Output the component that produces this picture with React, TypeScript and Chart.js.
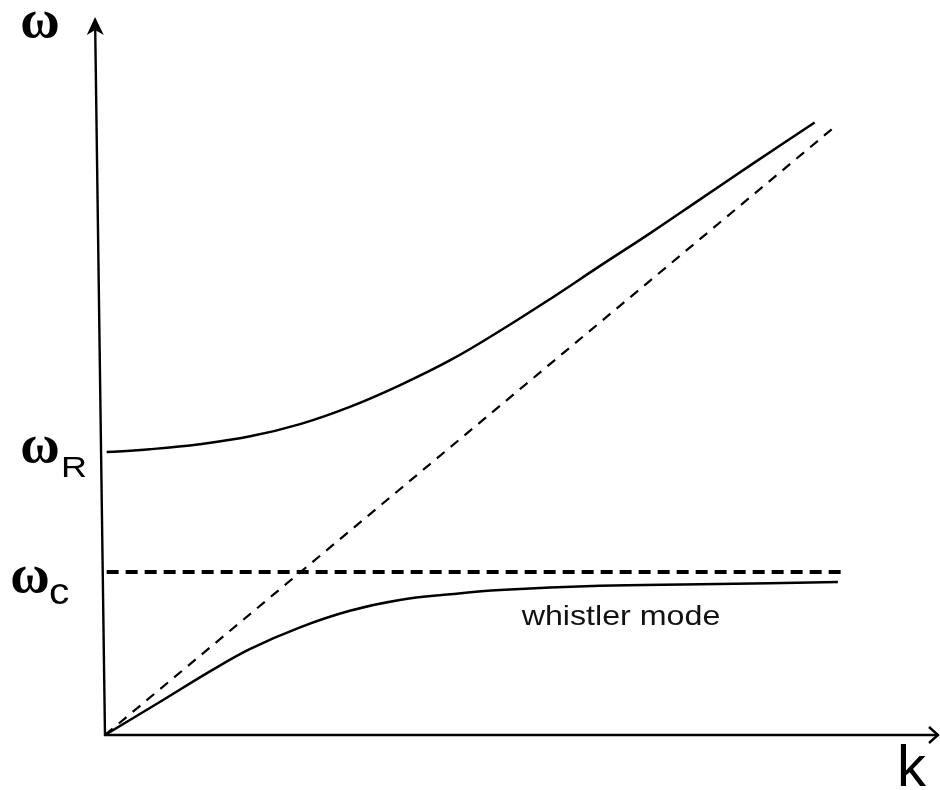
import { useEffect, useRef } from "react";
import { Chart, registerables } from "chart.js";

Chart.register(...registerables);

// Upper branch (R-mode, starts at ωR)
const kUpper = [0.02, 0.54, 1.14, 1.75, 2.35, 2.95, 3.55, 4.16, 4.76, 5.36, 5.96, 6.57, 7.17, 7.77, 8.55];
const wUpper = [3.94, 3.98, 4.05, 4.16, 4.33, 4.57, 4.87, 5.22, 5.63, 6.07, 6.53, 6.99, 7.46, 7.93, 8.53];
// Lower branch (whistler mode, asymptote ωc)
const kLower = [0, 0.66, 1.27, 1.75, 2.35, 2.95, 3.55, 4.16, 4.76, 5.96, 7.17, 8.83];
const wLower = [0, 0.46, 0.89, 1.2, 1.5, 1.73, 1.88, 1.96, 2.02, 2.08, 2.1, 2.13];
// Light line ω = ck
const kLight = [0, 8.77];
const wLight = [0, 8.45];
// Cyclotron frequency line
const kCyc = [0.02, 8.92];
const OMEGA_C = 2.27;
const OMEGA_R = 3.94;
const K_MAX = 10;
const W_MAX = 10;
// Labels
const LABEL_OMEGA = "ω";
const LABEL_R = "R";
const LABEL_C = "c";
const LABEL_K = "k";
const LABEL_WHISTLER = "whistler mode";
const WHISTLER_K = 5.02;
const WHISTLER_W = 1.53;

const toPts = (ks: number[], ws: number[]) => ks.map((k, i) => ({ x: k, y: ws[i] }));

function scaledText(ctx: CanvasRenderingContext2D, t: string, x: number, y: number, sx: number) {
  ctx.save();
  ctx.translate(x, y);
  ctx.scale(sx, 1);
  ctx.fillText(t, 0, 0);
  ctx.restore();
}

const decorPlugin = {
  id: "decor",
  afterDatasetsDraw(chart: any) {
    const ctx: CanvasRenderingContext2D = chart.ctx;
    const xs = chart.scales.x;
    const ys = chart.scales.y;
    const { left, right, top } = chart.chartArea;
    const x0 = xs.getPixelForValue(0);
    const y0 = ys.getPixelForValue(0);
    ctx.save();
    ctx.strokeStyle = "#000";
    ctx.fillStyle = "#000";
    ctx.lineWidth = 2.4;
    ctx.setLineDash([]);
    // y axis (slightly tilted as in the sketch)
    const tipX = xs.getPixelForValue(-0.12);
    const tipY = top;
    let ux = tipX - x0, uy = tipY - y0;
    const len = Math.hypot(ux, uy);
    ux /= len; uy /= len;
    const nx = -uy, ny = ux;
    ctx.beginPath();
    ctx.moveTo(x0, y0 + 1);
    ctx.lineTo(tipX - ux * 10, tipY - uy * 10);
    ctx.stroke();
    const bx = tipX - ux * 18, by = tipY - uy * 18;
    ctx.beginPath();
    ctx.moveTo(tipX, tipY);
    ctx.lineTo(bx + nx * 8.5, by + ny * 8.5);
    ctx.lineTo(tipX - ux * 13, tipY - uy * 13);
    ctx.lineTo(bx - nx * 8.5, by - ny * 8.5);
    ctx.closePath();
    ctx.fill();
    // x axis
    ctx.beginPath();
    ctx.moveTo(x0 - 1, y0);
    ctx.lineTo(right + 3, y0);
    ctx.stroke();
    ctx.beginPath();
    ctx.moveTo(right - 6, y0 - 8);
    ctx.lineTo(right + 3, y0);
    ctx.lineTo(right - 6, y0 + 8);
    ctx.stroke();

    // labels
    ctx.textBaseline = "alphabetic";
    const serif = '"Liberation Serif", "Times New Roman", serif';
    const sans = '"Liberation Sans", Arial, sans-serif';
    ctx.textAlign = "center";
    ctx.font = `bold 54px ${serif}`;
    ctx.fillText(LABEL_OMEGA, left - 65, top + 20);
    const yR = ys.getPixelForValue(OMEGA_R);
    ctx.fillText(LABEL_OMEGA, left - 65, yR + 10);
    const yC = ys.getPixelForValue(OMEGA_C);
    ctx.fillText(LABEL_OMEGA, left - 75, yC + 20);
    ctx.textAlign = "left";
    ctx.font = `30px ${sans}`;
    scaledText(ctx, LABEL_R, left - 44, yR + 25, 1.2);
    ctx.font = `37px ${sans}`;
    scaledText(ctx, LABEL_C, left - 56, yC + 32, 1.1);
    ctx.font = `58px ${sans}`;
    ctx.fillText(LABEL_K, right - 38, y0 + 51);
    ctx.font = `28px ${sans}`;
    ctx.fillStyle = "#111";
    scaledText(ctx, LABEL_WHISTLER, xs.getPixelForValue(WHISTLER_K), ys.getPixelForValue(WHISTLER_W), 1.15);
    ctx.restore();
  },
};

export default function App() {
  const ref = useRef<HTMLCanvasElement | null>(null);
  useEffect(() => {
    if (!ref.current) return;
    const chart = new Chart(ref.current, {
      type: "scatter",
      data: {
        datasets: [
          {
            data: toPts(kUpper, wUpper),
            showLine: true,
            borderColor: "#000",
            borderWidth: 2.5,
            pointRadius: 0,
            tension: 0.4,
          },
          {
            data: toPts(kLower, wLower),
            showLine: true,
            borderColor: "#000",
            borderWidth: 2.5,
            pointRadius: 0,
            tension: 0.4,
          },
          {
            data: toPts(kLight, wLight),
            showLine: true,
            borderColor: "#000",
            borderWidth: 2.2,
            borderDash: [10, 8],
            pointRadius: 0,
          },
          {
            data: kCyc.map((k) => ({ x: k, y: OMEGA_C })),
            showLine: true,
            borderColor: "#000",
            borderWidth: 4,
            borderDash: [12, 7],
            pointRadius: 0,
          },
        ] as any,
      },
      options: {
        responsive: false,
        animation: false,
        layout: { padding: { left: 105, right: 5, top: 17, bottom: 55 } },
        plugins: { legend: { display: false }, tooltip: { enabled: false } },
        scales: {
          x: { type: "linear", min: 0, max: K_MAX, display: false },
          y: { type: "linear", min: 0, max: W_MAX, display: false },
        },
      } as any,
      plugins: [decorPlugin],
    });
    return () => chart.destroy();
  }, []);
  return (
    <canvas
      ref={ref}
      width={940}
      height={790}
      style={{ position: "fixed", left: 0, top: 0, display: "block", background: "#fff" }}
    />
  );
}
